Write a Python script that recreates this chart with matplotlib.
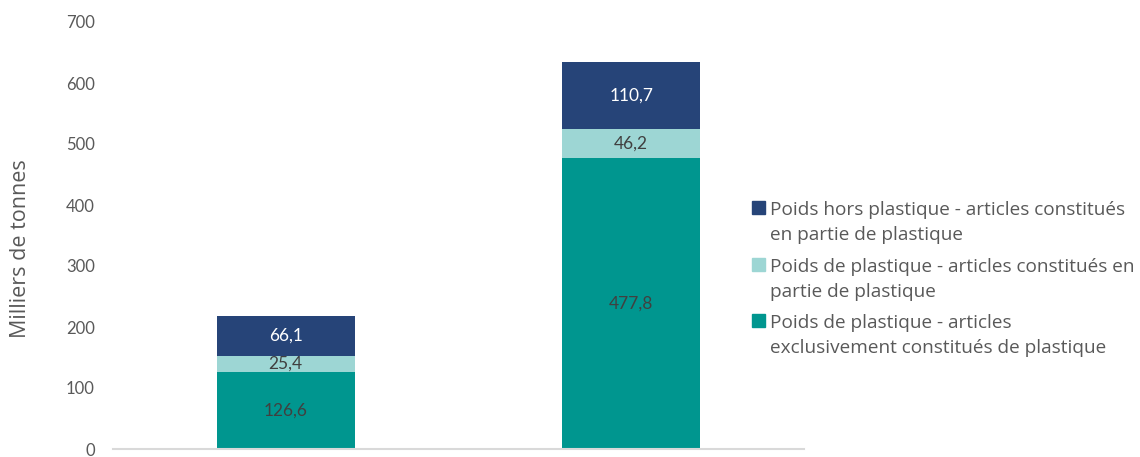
import matplotlib
matplotlib.use("Agg")
import matplotlib.pyplot as plt
from matplotlib.patches import Rectangle
import numpy as np

categories = ["A", "B"]
excl_plastique = [126.6, 477.8]
part_plastique = [25.4, 46.2]
hors_plastique = [66.1, 110.7]
series_names = [
    ["Poids hors plastique - articles constitués", "en partie de plastique"],
    ["Poids de plastique - articles constitués en", "partie de plastique"],
    ["Poids de plastique - articles", "exclusivement constitués de plastique"],
]
yticks = [0, 100, 200, 300, 400, 500, 600, 700]

plt.rcParams['font.family'] = ['Lato', 'DejaVu Sans']
grey = "#595959"
c_dark = "#264478"
c_light = "#9DD6D4"
c_teal = "#00968F"

W, H = 1140, 457
fig = plt.figure(figsize=(W/100, H/100), dpi=100)
ax = fig.add_axes([113/W, 1-449/H, (804-113)/W, (449-22)/H])

x = np.arange(len(categories))
w = 0.4
b1 = ax.bar(x, excl_plastique, w, color=c_teal, zorder=2)
bot2 = np.array(excl_plastique)
b2 = ax.bar(x, part_plastique, w, bottom=bot2, color=c_light, zorder=2)
bot3 = bot2 + np.array(part_plastique)
b3 = ax.bar(x, hors_plastique, w, bottom=bot3, color=c_dark, zorder=2)

def fmt(v):
    return f"{v:.1f}".replace(".", ",")

for vals, bots, col in [(excl_plastique, np.zeros(2), "#404040"),
                        (part_plastique, bot2, "#404040"),
                        (hors_plastique, bot3, "white")]:
    for xi, v, bo in zip(x, vals, bots):
        ax.text(xi, bo + v/2, fmt(v), ha="center", va="center", color=col, fontsize=12.5)

ax.set_xlim(-0.5, 1.5)
ax.set_ylim(0, 700)
ax.set_yticks(yticks)
ax.set_yticklabels([str(t) for t in yticks], color=grey, fontsize=12)
ax.set_xticks([])
ax.tick_params(axis="y", length=0, pad=13)
for s in ["top", "right", "left"]:
    ax.spines[s].set_visible(False)
ax.spines["bottom"].set_color("#D9D9D9")
ax.spines["bottom"].set_linewidth(1.5)

fig.text(21/W, 1-249/H, "Milliers de tonnes", rotation=90, ha="center", va="center",
         color=grey, fontsize=15.5, family=['Open Sans', 'DejaVu Sans'])

# legend drawn manually (handle aligned with the first line of each entry)
leg_colors = [c_dark, c_light, c_teal]
first_baselines = [215, 272, 328]
for col, lines, yb in zip(leg_colors, series_names, first_baselines):
    fig.patches.append(Rectangle((752/W, 1-214/H - (yb-215)/H), 13/W, 13/H,
                                 transform=fig.transFigure, color=col, figure=fig))
    for i, line in enumerate(lines):
        fig.text(770/W, 1-(yb + 25*i)/H, line, ha="left", va="baseline", color=grey,
                 fontsize=13.7, family=['Open Sans', 'DejaVu Sans'])

fig.savefig("out.png", dpi=100)
